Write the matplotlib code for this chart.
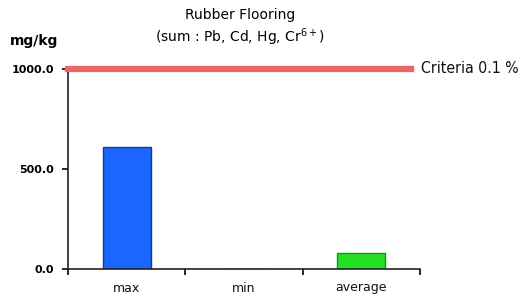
import matplotlib
matplotlib.use("Agg")
import matplotlib.pyplot as plt
import numpy as np

categories = ["max", "min", "average"]
values = [610.0, 0.0, 80.0]
bar_colors = ["#1a66ff", "#2255dd", "#22e022"]
edge_colors = ["#0b3a9c", "#0b3a9c", "#119911"]
yticks = [0.0, 500.0, 1000.0]
ytick_labels = ["0.0", "500.0", "1000.0"]
criteria = 1000.0

fig = plt.figure(figsize=(5.21, 2.98), dpi=100)
ax = fig.add_axes([68/521, 1-269/298, (420-68)/521, (269-69)/298])

x = np.arange(len(categories))
ax.bar(x, values, width=0.41, color=bar_colors, edgecolor=edge_colors, linewidth=1.0, zorder=2)
ax.set_xlim(-0.5, len(categories)-0.5)
ax.set_ylim(0, 1000)

ax.axhline(criteria, xmin=0, xmax=(411-68)/352, color="#f06464", linewidth=4.5, clip_on=False, zorder=3)
ax.text(1.003, 1.0, "Criteria 0.1 %", transform=ax.transAxes,
        ha="left", va="center", fontsize=11.3, family="DejaVu Sans", fontstretch="condensed",
        color="#111111")

for s in ["top", "right"]:
    ax.spines[s].set_visible(False)
for s in ["left", "bottom"]:
    ax.spines[s].set_linewidth(1.2)
    ax.spines[s].set_color("#222222")

ax.set_yticks(yticks)
ax.set_yticklabels(ytick_labels, fontsize=8, fontweight="bold")
ax.set_xticks(x)
ax.set_xticklabels(categories, fontsize=9, color="#111111")
ax.tick_params(axis="x", which="major", length=0, pad=9)
ax.set_xticks(np.arange(-0.5, len(categories), 1.0), minor=True)
ax.tick_params(axis="x", which="minor", length=4, direction="out", width=1.2)
ax.tick_params(axis="y", length=4, width=1.2, pad=6)

fig.text(10/521, 1-41/298, "mg/kg", fontsize=10, fontweight="bold", ha="left", va="center")
fig.text(240/521, 1-15/298, "Rubber Flooring", fontsize=10, ha="center", va="center")
fig.text(240/521, 1-37/298, "(sum : Pb, Cd, Hg, Cr$^{6+}$)", fontsize=10, ha="center", va="center")

fig.savefig("out.png", dpi=100)
